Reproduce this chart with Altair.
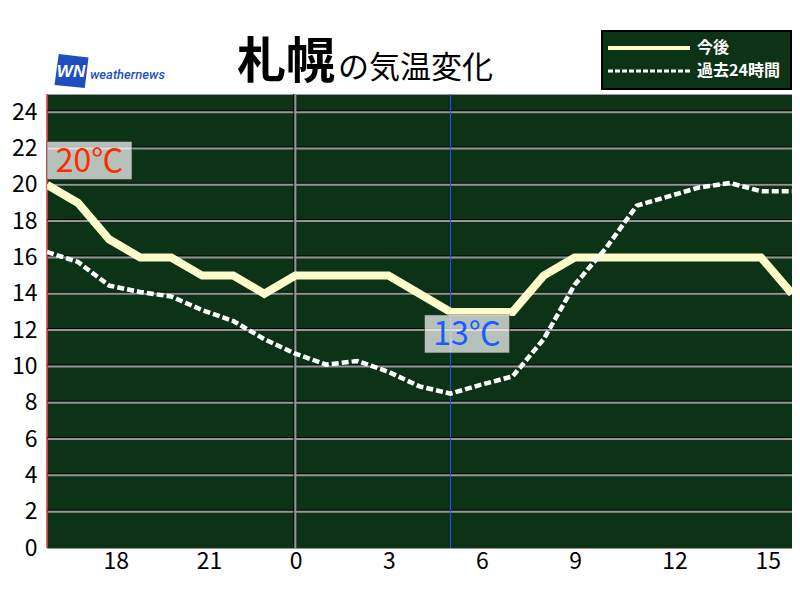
import altair as alt
import pandas as pd

# ---- data ----
hours = list(range(16, 41))  # 16:00 today .. 16:00 tomorrow (hour 24 = 0:00)
forecast = [20, 19, 17, 16, 16, 15, 15, 14, 15, 15, 15, 15, 14, 13, 13, 13,
            15, 16, 16, 16, 16, 16, 16, 16, 14]
past = [16.3, 15.75, 14.45, 14.1, 13.85, 13.1, 12.5, 11.5, 10.7, 10.1, 10.3,
        9.7, 8.9, 8.5, 9.0, 9.45, 11.5, 14.5, 16.5, 18.85, 19.35, 19.85, 20.1,
        19.65, 19.65]
y_ticks = list(range(0, 25, 2))
x_ticks = [18, 21, 24, 27, 30, 33, 36, 39]
ann_hours = [16, 29]
ann_values = [20, 13]
ann_labels = ["20℃", "13℃"]
midnight = [24]
now_hour = [29]
legend_labels = ["今後", "過去24時間"]
title_main = "札幌"
title_sub = "の気温変化"
brand = "weathernews"
logo = "WN"

FONT = "Noto Sans CJK JP"
BG = "#0c3316"

df = pd.DataFrame({"hour": hours, "forecast": forecast, "past": past})
grid_df = pd.DataFrame({"v": y_ticks[1:]})
mid_df = pd.DataFrame({"h": midnight})
now_df = pd.DataFrame({"h": now_hour})
edge_df = pd.DataFrame({"h": [hours[0]]})
ann_df = pd.DataFrame({"hour": ann_hours, "value": ann_values, "label": ann_labels})
one = pd.DataFrame({"a": [0]})

W, H = 745, 454
xscale = alt.Scale(domain=[hours[0], hours[-1]], nice=False, zero=False)
yscale = alt.Scale(domain=[0, 25], nice=False, zero=True)

yaxis = alt.Axis(values=y_ticks, title=None, grid=False, ticks=False, domain=False,
                 labelFontSize=23, labelColor="black", labelPadding=10, labelFont=FONT,
                 labelOverlap=False, labelFlush=False)
xaxis = alt.Axis(values=x_ticks, labelExpr="'' + (datum.value % 24)", title=None,
                 grid=False, ticks=False, domain=False, labelFontSize=23,
                 labelColor="black", labelAlign="left", labelOffset=-6, labelPadding=2,
                 labelFont=FONT, labelOverlap=False, labelFlush=False)


def X(field):
    return alt.X(field, scale=xscale, axis=xaxis)


def Y(field):
    return alt.Y(field, scale=yscale, axis=yaxis)


# grid lines
grid_dark = alt.Chart(grid_df).mark_rule(color="#000000", strokeWidth=1, yOffset=-1.5).encode(
    y=Y("v:Q"))
grid_gray = alt.Chart(grid_df).mark_rule(color="#959595", strokeWidth=2).encode(y=Y("v:Q"))
mid_dark = alt.Chart(mid_df).mark_rule(color="#000000", strokeWidth=1, xOffset=-1.5).encode(
    x=X("h:Q"))
mid_gray = alt.Chart(mid_df).mark_rule(color="#959595", strokeWidth=2).encode(x=X("h:Q"))
now_line = alt.Chart(now_df).mark_rule(color="#2050ff", strokeWidth=1).encode(x=X("h:Q"))
left_edge = alt.Chart(edge_df).mark_rule(color="#dd0000", strokeWidth=1.2).encode(x=X("h:Q"))

# series
solid = alt.Chart(df).mark_line(color="#fffccc", strokeWidth=8, strokeJoin="miter",
                                strokeCap="butt", clip=True).encode(
    x=X("hour:Q"), y=Y("forecast:Q"))
dashed = alt.Chart(df).mark_line(color="#ffffff", strokeWidth=4.5, strokeDash=[7, 3],
                                 strokeJoin="miter", strokeCap="butt", clip=True).encode(
    x=X("hour:Q"), y=Y("past:Q"))


# annotation boxes
def ann_layer(i, dx, dy, color):
    d = ann_df.iloc[[i]]
    box = alt.Chart(d).mark_rect(width=85, height=38, xOffset=dx, yOffset=dy, fill="white",
                                 fillOpacity=0.7, stroke="#333333", strokeWidth=1,
                                 strokeOpacity=0.6).encode(
        x=X("hour:Q"), y=Y("value:Q"))
    txt = alt.Chart(d).mark_text(dx=dx, dy=dy + 1, fontSize=32, font=FONT, color=color,
                                 align="center", baseline="middle").encode(
        x=X("hour:Q"), y=Y("value:Q"), text="label:N")
    return box + txt


ann_hi = ann_layer(0, 42.5, -24.3, "#ff2a00")
ann_lo = ann_layer(1, 16.5, 22, "#1a5cff")

# title + logo
t_main = alt.Chart(one).mark_text(font=FONT, fontSize=49, fontWeight="bold", color="black",
                                  align="left", baseline="alphabetic").encode(
    x=alt.value(190), y=alt.value(-16), text=alt.value(title_main))
t_sub = alt.Chart(one).mark_text(font=FONT, fontSize=31, color="black",
                                 align="left", baseline="alphabetic").encode(
    x=alt.value(291), y=alt.value(-16), text=alt.value(title_sub))
logo_shape = alt.Chart(one).mark_point(shape="M -0.75 -1 L 1 -0.8 L 0.78 1 L -1 0.82 Z",
                                       size=1156, filled=True, color="#1f4fbf", opacity=1).encode(
    x=alt.value(24.5), y=alt.value(-23))
logo_txt = alt.Chart(one).mark_text(font="Liberation Sans", fontSize=17, fontWeight="bold",
                                    fontStyle="italic", color="white", align="center",
                                    baseline="middle").encode(
    x=alt.value(24), y=alt.value(-22), text=alt.value(logo))
brand_txt = alt.Chart(one).mark_text(font="Roboto", fontSize=13, fontWeight=500,
                                     fontStyle="italic", color="#1f4fbf", align="left",
                                     baseline="alphabetic").encode(
    x=alt.value(43), y=alt.value(-15), text=alt.value(brand))

# legend box
leg_box = alt.Chart(one).mark_rect(fill=BG, stroke="black", strokeWidth=2).encode(
    x=alt.value(555), x2=alt.value(744), y=alt.value(-63), y2=alt.value(-5))
leg_solid = alt.Chart(one).mark_rule(color="#fffccc", strokeWidth=4).encode(
    x=alt.value(561), x2=alt.value(643), y=alt.value(-46))
leg_dash = alt.Chart(one).mark_rule(color="#ffffff", strokeWidth=3, strokeDash=[5, 2]).encode(
    x=alt.value(561), x2=alt.value(643), y=alt.value(-23))
leg_t1 = alt.Chart(one).mark_text(font=FONT, fontSize=16, fontWeight="bold", color="white",
                                  align="left", baseline="middle").encode(
    x=alt.value(650), y=alt.value(-46), text=alt.value(legend_labels[0]))
leg_t2 = alt.Chart(one).mark_text(font=FONT, fontSize=16, fontWeight="bold", color="white",
                                  align="left", baseline="middle").encode(
    x=alt.value(650), y=alt.value(-23), text=alt.value(legend_labels[1]))

chart = alt.layer(
    grid_dark, grid_gray, mid_dark, mid_gray, now_line, left_edge,
    solid, dashed, ann_hi, ann_lo,
    t_main, t_sub, logo_shape, logo_txt, brand_txt,
    leg_box, leg_solid, leg_dash, leg_t1, leg_t2,
).properties(
    width=W, height=H,
    padding={"left": 39, "top": 86, "right": 0, "bottom": 32},
    autosize=alt.AutoSizeParams(type="none"),
    background="white",
).configure_view(fill=BG, stroke="#9a9a9a", strokeWidth=1)

chart.save("out.html", embed_options={"renderer": "svg", "actions": False})
